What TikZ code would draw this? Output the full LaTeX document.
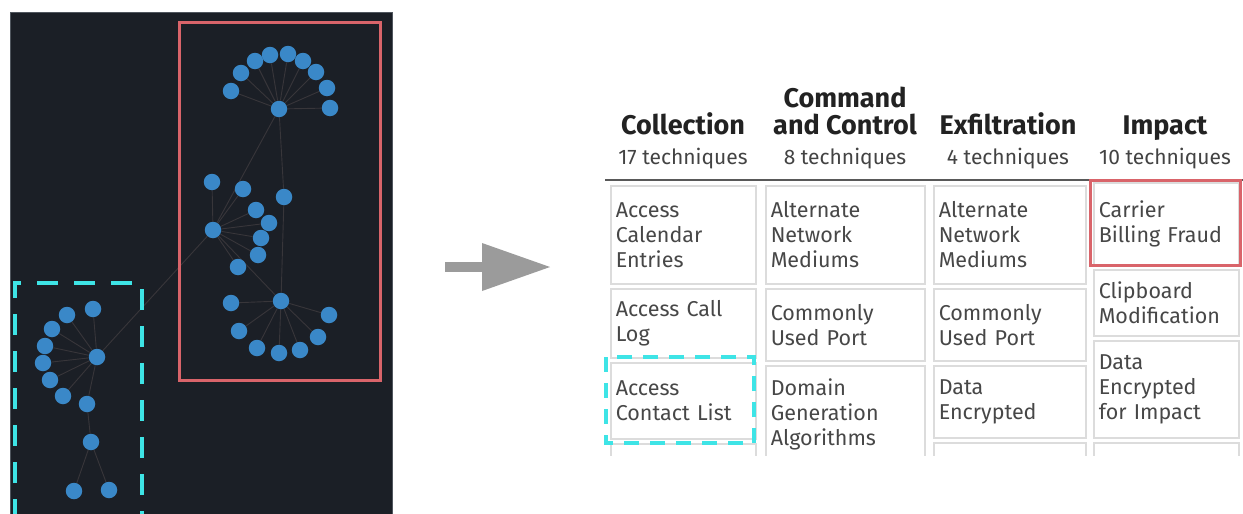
\documentclass[tikz,border=0pt]{standalone}
\usepackage{fontspec}
\setmainfont{Fira Sans}
\usetikzlibrary{arrows.meta,positioning,backgrounds}
\definecolor{panel}{HTML}{1B1F26}
\definecolor{panelrim}{HTML}{50565E}
\definecolor{dot}{HTML}{3A88C8}
\definecolor{edgec}{HTML}{38363A}
\definecolor{hl}{HTML}{D9646A}
\definecolor{cy}{HTML}{3EE4E6}
\definecolor{cellline}{HTML}{DCDCDC}
\definecolor{celltext}{HTML}{474747}
\definecolor{hdtext}{HTML}{222222}
\definecolor{arr}{HTML}{9B9B9B}

\begin{document}
\begin{tikzpicture}[x=1pt,y=-1pt,>=Stealth]
\tikzstyle{v}=[circle,fill=dot,inner sep=0pt,minimum size=16.5pt]
\tikzstyle{e}=[draw=edgec,line width=0.9pt]
\tikzstyle{cell}=[draw=cellline,line width=1.5pt,anchor=north west,align=left,inner xsep=5pt,inner ysep=0pt,font=\fontsize{21.5}{25}\selectfont,text=celltext]
\tikzstyle{hd}=[anchor=base,inner sep=0pt,font=\fontsize{27}{27}\selectfont\bfseries,text=hdtext]
\tikzstyle{sub}=[anchor=base,inner sep=0pt,font=\fontsize{21}{22}\selectfont,text=hdtext!85]
\useasboundingbox (0,0) rectangle (1243,514);
% graph, upper cluster
\node[v] (a0) at (279,109) {};
\node[v] (a1) at (231,91) {}; \node[v] (a2) at (241,73) {}; \node[v] (a3) at (255,61) {};
\node[v] (a4) at (270,55) {}; \node[v] (a5) at (288,54) {}; \node[v] (a6) at (303,61) {};
\node[v] (a7) at (316,72) {}; \node[v] (a8) at (327,88) {}; \node[v] (a9) at (330,108) {};
\node[v] (b0) at (213,230) {};
\node[v] (b1) at (212,182) {}; \node[v] (b2) at (243,189) {}; \node[v] (b3) at (256,210) {};
\node[v] (b4) at (269,223) {}; \node[v] (b5) at (261,238) {}; \node[v] (b6) at (258,255) {};
\node[v] (b7) at (238,267) {};
\node[v] (c1) at (284,197) {};
\node[v] (c0) at (281,301) {};
\node[v] (c2) at (231,303) {}; \node[v] (c3) at (239,331) {}; \node[v] (c4) at (257,348) {};
\node[v] (c5) at (279,353) {}; \node[v] (c6) at (300,350) {}; \node[v] (c7) at (318,337) {};
\node[v] (c8) at (329,315) {};
% graph, lower left cluster
\node[v] (d0) at (97,357) {};
\node[v] (d1) at (93,309) {}; \node[v] (d2) at (67,315) {}; \node[v] (d3) at (52,329) {};
\node[v] (d4) at (45,346) {}; \node[v] (d5) at (43,363) {}; \node[v] (d6) at (50,380) {};
\node[v] (d7) at (63,396) {};
\node[v] (d8) at (87,404) {}; \node[v] (d9) at (91,442) {};
\node[v] (d10) at (74,491) {}; \node[v] (d11) at (109,490) {};
\begin{scope}[on background layer]
\fill[white] (0,0) rectangle (1243,514);
\fill[panel,draw=panelrim,line width=0.8pt] (10,12) rectangle (392,516);
\foreach \i in {1,...,9} \draw[e] (a0) -- (a\i);
\foreach \i in {1,...,7} \draw[e] (b0) -- (b\i);
\foreach \i in {2,...,8} \draw[e] (c0) -- (c\i);
\foreach \i in {1,...,8} \draw[e] (d0) -- (d\i);
\draw[e] (a0) -- (b0); \draw[e] (a0) -- (c1); \draw[e] (c1) -- (c0);
\draw[e] (b0) -- (c0); \draw[e] (b0) -- (d0);
\draw[e] (d8) -- (d9); \draw[e] (d9) -- (d10); \draw[e] (d9) -- (d11);
\end{scope}
\draw[hl,line width=3pt] (179,22) rectangle (380,380);
\draw[cy,line width=4.5pt,dash pattern=on 21pt off 16pt] (15,520) -- (15,283) -- (142,283) -- (142,520);
% arrow
\coordinate (p0) at (445,267); \coordinate (p1) at (550,267);
\draw[arr,line width=10pt,-{Triangle[length=68pt,width=48pt,line width=0pt]}] (p0) -- (p1);
% table head
\node[hd] (hcol) at (683,134) {Collection};
\node[hd] (hcmd0) at (845,107) {Command}; \node[hd] (hcmd) at (845,134) {and Control};
\node[hd] (hexf) at (1008,134) {Exfiltration};
\node[hd] (himp) at (1165,134) {Impact};
\node[sub] (scol) at (683,164) {17 techniques}; \node[sub] (scmd) at (845,164) {8 techniques};
\node[sub] (sexf) at (1008,164) {4 techniques}; \node[sub] (simp) at (1165,164) {10 techniques};
\coordinate (l0) at (605,180); \coordinate (l1) at (1243,180);
\draw[line width=2.5pt,black!65] (l0) -- (l1);
% table cells
\begin{scope}
\clip (600,182) rectangle (1243,455);
\node[cell,text width=135pt,minimum height=98pt] (t11) at (610,185) {Access\\Calendar\\Entries};
\node[cell,text width=135pt,minimum height=69pt] (t12) at (610,288) {Access Call\\Log};
\node[cell,text width=135pt,minimum height=76pt] (t13) at (610,362) {Access\\Contact List};
\node[cell,text width=135pt,minimum height=40pt] (t14) at (610,443) {};
\node[cell,text width=149pt,minimum height=98pt] (t21) at (765,185) {Alternate\\Network\\Mediums};
\node[cell,text width=149pt,minimum height=72pt] (t22) at (765,288) {Commonly\\Used Port};
\node[cell,text width=149pt,minimum height=98pt] (t23) at (765,365) {Domain\\Generation\\Algorithms};
\node[cell,text width=142pt,minimum height=98pt] (t31) at (933,185) {Alternate\\Network\\Mediums};
\node[cell,text width=142pt,minimum height=72pt] (t32) at (933,288) {Commonly\\Used Port};
\node[cell,text width=142pt,minimum height=72pt] (t33) at (933,365) {Data\\Encrypted};
\node[cell,text width=142pt,minimum height=40pt] (t34) at (933,442) {};
\node[cell,text width=135pt,minimum height=83pt] (t41) at (1093,182) {Carrier\\Billing Fraud};
\node[cell,text width=135pt,minimum height=66pt] (t42) at (1093,269) {Clipboard\\Modification};
\node[cell,text width=135pt,minimum height=97pt] (t43) at (1093,340) {Data\\Encrypted\\for Impact};
\node[cell,text width=135pt,minimum height=40pt] (t44) at (1093,442) {};
\end{scope}
\draw[hl,line width=3pt] (1090,180) rectangle (1240,265);
\draw[cy,line width=3.5pt,dash pattern=on 15pt off 11pt] (606,357) rectangle (754,443);
\end{tikzpicture}
\end{document}
